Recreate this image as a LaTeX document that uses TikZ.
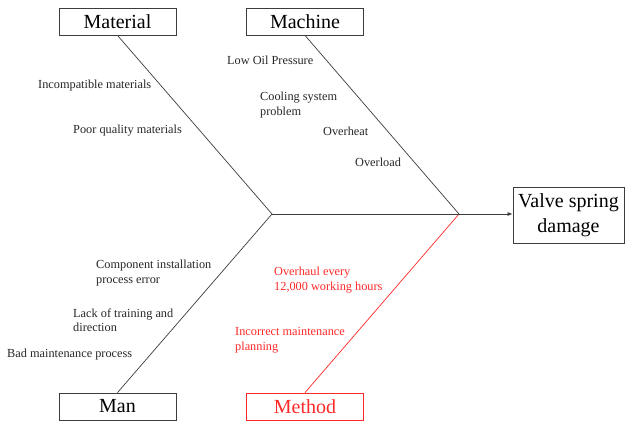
\documentclass[tikz,border=0pt]{standalone}
\usepackage{fontspec}
\setmainfont{Liberation Serif}
\usetikzlibrary{arrows.meta}
\definecolor{bone}{RGB}{60,60,60}
\definecolor{methodred}{RGB}{255,40,40}
\tikzset{
  x=1pt, y=-1pt,
  catbox/.style={draw=bone, line width=0.8pt, minimum width=117pt, minimum height=27pt,
    inner sep=0pt, font=\fontsize{20}{22}\selectfont},
  bonearm/.style={draw=bone, line width=0.7pt},
  causetext/.style={anchor=west, inner sep=0pt, align=left,
    font=\fontsize{12.3}{14.5}\selectfont, text=black!85},
}
\begin{document}
\begin{tikzpicture}
\useasboundingbox (0,0) rectangle (626,423);

% category boxes
\node[catbox] (material) at (117.5,21.5) {Material};
\node[catbox] (machine)  at (305,21.5) {Machine};
\node[catbox] (man)      at (117.5,406.5) {Man};
\node[catbox, draw=methodred, text=methodred] (method) at (305,406.5) {Method};

% effect box
\node[draw=bone, line width=0.8pt, minimum width=111pt, minimum height=56pt, inner sep=0pt,
  align=center, font=\fontsize{20}{24.5}\selectfont] (effect) at (568.5,215) {Valve spring\\damage};

% spine joints
\coordinate (jleft)  at (272,214);
\coordinate (jright) at (459,214);

% bones
\draw[bonearm] (material.south) -- (jleft);
\draw[bonearm] (machine.south) -- (jright);
\draw[bonearm] (man.north) -- (jleft);
\draw[bonearm, draw=methodred] (method.north) -- (jright);
\draw[bonearm, -{Latex[length=5pt,width=4pt]}] (jleft) -- (effect.west |- jleft);

% causes
\node[causetext] (c1) at (38,86)  {Incompatible materials};
\node[causetext] (c2) at (73,131) {Poor quality materials};
\node[causetext] (c3) at (227,60) {Low Oil Pressure};
\node[causetext] (c4) at (260,105) {Cooling system\\problem};
\node[causetext] (c5) at (323,131) {Overheat};
\node[causetext] (c6) at (355,162) {Overload};
\node[causetext] (c7) at (96,273) {Component installation\\process error};
\node[causetext] (c8) at (73,320) {Lack of training and\\direction};
\node[causetext] (c9) at (7,355) {Bad maintenance process};
\node[causetext, text=methodred] (c10) at (274,280) {Overhaul every\\12,000 working hours};
\node[causetext, text=methodred] (c11) at (235,340) {Incorrect maintenance\\planning};
\end{tikzpicture}
\end{document}
